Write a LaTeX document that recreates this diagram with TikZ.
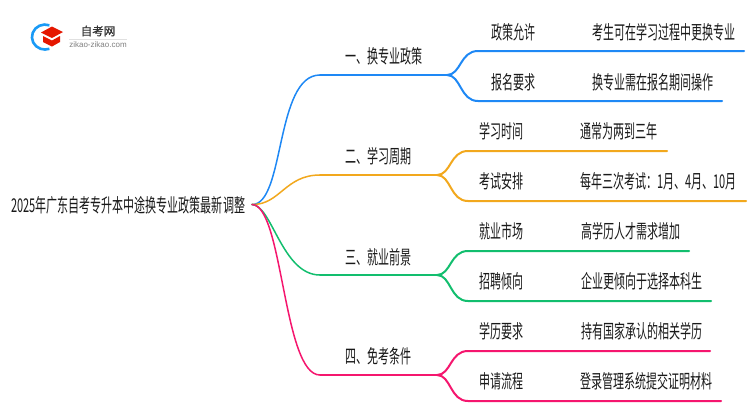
\documentclass[tikz,border=0pt]{standalone}
\usepackage{fontspec}
\setmainfont{Liberation Sans}
\newfontfamily\cjk[FakeStretch=0.58]{Noto Sans CJK SC}
\newfontfamily\cjklogo[FakeBold=1]{Noto Sans CJK SC}
\usetikzlibrary{calc}
\definecolor{cblue}{HTML}{1E88F5}
\definecolor{corange}{HTML}{F2A81D}
\definecolor{cgreen}{HTML}{12BE6E}
\definecolor{cpink}{HTML}{F5166E}
\tikzset{
  txt/.style={inner sep=0pt,anchor=west,text=black!90,font=\fontsize{19}{21}\cjk},
  trunk/.style={line width=1.5pt,line cap=round},
  rail/.style={line width=2pt,line cap=round},
  fork/.style={line width=2pt,line cap=round},
}
\begin{document}
\begin{tikzpicture}[x=1pt,y=-1pt]
\useasboundingbox (0,0) rectangle (750,410);
\fill[white] (0,0) rectangle (750,410);
% logo
\draw[line width=2.6pt,color=cblue!85!cyan] (49.4,25.3) arc[start angle=-70,end angle=-290,x radius=13,y radius=12.5];
\fill[red!80!orange!90!black] (52,26.5) -- (63,32) -- (52,38) -- (41,32.5) -- cycle;
\fill[red!80!orange!90!black] (43,36) -- (52,40.5) -- (60,36) -- (60,42) -- (52,46.5) -- (43,42) -- cycle;
\node[inner sep=0pt,font=\fontsize{11.5}{12}\cjklogo,text=black!80] (lg) at (98,31) {自考网};
\node[inner sep=0pt,font=\fontsize{8}{9}\selectfont,text=black!50] (lu) at (98,45) {zikao-zikao.com};
\draw[black!12,line width=0.6pt] (lu.north west|-0,39) -- (lu.north east|-0,39);
% root
\node[txt] (root) at (11,205) {2025年广东自考专升本中途换专业政策最新调整};
\coordinate (r) at (252,204.5);
% branch 1
\coordinate (b1a) at (320,75); \coordinate (b1b) at (447,75);
\coordinate (l11) at (478,51); \coordinate (e11) at (744,51);
\coordinate (l12) at (478,101); \coordinate (e12) at (722,101);
\draw[trunk,cblue] (r) .. controls (285,205) and (275,75) .. (b1a);
\draw[rail,cblue] (b1a) -- (b1b);
\draw[fork,cblue] (b1b) .. controls (461,75) and (460,51) .. (l11) -- (e11);
\draw[fork,cblue] (b1b) .. controls (461,75) and (460,101) .. (l12) -- (e12);
\node[txt] (t1) at (345,56) {一、换专业政策};
\node[txt] (a11) at (491,32) {政策允许};
\node[txt] (c11) at (592,32) {考生可在学习过程中更换专业};
\node[txt] (a12) at (491,82) {报名要求};
\node[txt] (c12) at (592,82) {换专业需在报名期间操作};
% branch 2
\coordinate (b2a) at (320,175); \coordinate (b2b) at (437,175);
\coordinate (l21) at (468,151); \coordinate (e21) at (667,151);
\coordinate (l22) at (468,201); \coordinate (e22) at (746,201);
\draw[trunk,corange] (r) .. controls (280,205) and (285,175) .. (b2a);
\draw[rail,corange] (b2a) -- (b2b);
\draw[fork,corange] (b2b) .. controls (451,175) and (450,151) .. (l21) -- (e21);
\draw[fork,corange] (b2b) .. controls (451,175) and (450,201) .. (l22) -- (e22);
\node[txt] (t2) at (345,156) {二、学习周期};
\node[txt] (a21) at (479,131) {学习时间};
\node[txt] (c21) at (580,131) {通常为两到三年};
\node[txt] (a22) at (479,181) {考试安排};
\node[txt] (c22) at (580,181) {每年三次考试：1月、4月、10月};
% branch 3
\coordinate (b3a) at (320,275); \coordinate (b3b) at (437,275);
\coordinate (l31) at (468,251); \coordinate (e31) at (689,251);
\coordinate (l32) at (468,301); \coordinate (e32) at (711,301);
\draw[trunk,cgreen] (r) .. controls (272,205) and (282,275) .. (b3a);
\draw[rail,cgreen] (b3a) -- (b3b);
\draw[fork,cgreen] (b3b) .. controls (451,275) and (450,251) .. (l31) -- (e31);
\draw[fork,cgreen] (b3b) .. controls (451,275) and (450,301) .. (l32) -- (e32);
\node[txt] (t3) at (345,257) {三、就业前景};
\node[txt] (a31) at (479,231) {就业市场};
\node[txt] (c31) at (581,231) {高学历人才需求增加};
\node[txt] (a32) at (479,281) {招聘倾向};
\node[txt] (c32) at (581,281) {企业更倾向于选择本科生};
% branch 4
\coordinate (b4a) at (320,375); \coordinate (b4b) at (437,375);
\coordinate (l41) at (468,351); \coordinate (e41) at (710,351);
\coordinate (l42) at (468,401); \coordinate (e42) at (721,401);
\draw[trunk,cpink] (r) .. controls (283,205) and (283,375) .. (b4a);
\draw[rail,cpink] (b4a) -- (b4b);
\draw[fork,cpink] (b4b) .. controls (451,375) and (450,351) .. (l41) -- (e41);
\draw[fork,cpink] (b4b) .. controls (451,375) and (450,401) .. (l42) -- (e42);
\node[txt] (t4) at (345,356) {四、免考条件};
\node[txt] (a41) at (479,331) {学历要求};
\node[txt] (c41) at (581,331) {持有国家承认的相关学历};
\node[txt] (a42) at (479,381) {申请流程};
\node[txt] (c42) at (580,381) {登录管理系统提交证明材料};
\end{tikzpicture}
\end{document}
